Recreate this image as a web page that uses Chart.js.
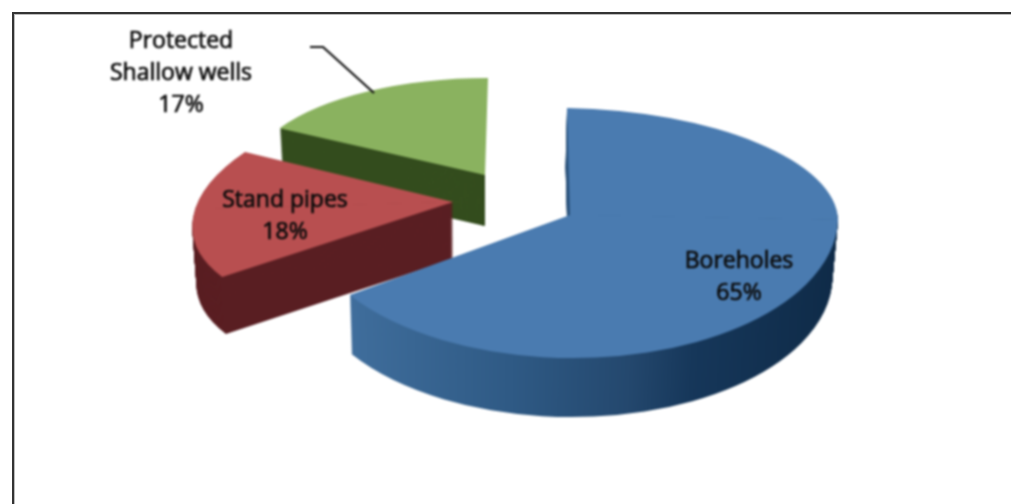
<!DOCTYPE html>
<html>
<head>
<meta charset="utf-8">
<script src="https://cdn.jsdelivr.net/npm/chart.js@4"></script>
<style>
    html, body { margin: 0; padding: 0; background: #fff; overflow: hidden; }
    #wrap { position: relative; width: 1011px; height: 504px; }
    #frame { position: absolute; left: 12px; top: 12px; right: 0; bottom: 0; border-left: 2px solid #333; border-top: 2px solid #333; box-shadow: inset 1px 1px 0 #bbb; }
    #pie { position: absolute; left: 0; top: 0; filter: blur(0.8px); }
</style>
</head>
<body>
<div id="wrap">
    <canvas id="pie" width="1011" height="504"></canvas>
    <div id="frame"></div>
</div>
<script>
const categories = ["Boreholes", "Stand pipes", "Protected Shallow wells"];
const shares = [65, 18, 17];
const labelLines = [["Boreholes"], ["Stand pipes"], ["Protected", "Shallow wells"]];

const topColors = ["#4a7bb0", "#b84f50", "#8ab25f"];
const wallColors = [null, "#5a1f23", "#344d1e"];

// chart.js has no 3d pie, so every slice gets its own projection of the flat arc
const sliceViews = [
    {x: 570, y: 215, a: 268, e: 5, backC: 3, frontC: -6, back: 107, front: 143, depth: 59},
    {x: 453, y: 202, a: 258, e: -7.5, backC: -37.6, frontC: -37.6, back: 117.3, front: 117.3, depth: 57},
    {x: 485, y: 175, a: 236, e: 0, backC: -3, frontC: -3, back: 97, front: 97, depth: 51, wallEdge: 485}
];
const labelSpots = [
    {x: 739, y: 261},
    {x: 285, y: 200},
    {x: 181, y: 41}
];
const drawOrder = [2, 1, 0];
// walls get narrower going down, the way the perspective of the picture does
const wallVanishX = 470;
const wallShrink = 0.015;

const projectArc = (ctx, arc, view, lift, fill) => {
    const r = arc.outerRadius;
    const saved = arc.options;
    arc.options = Object.create(saved, {backgroundColor: {value: fill}, borderWidth: {value: 0}});
    const shrink = 1 - wallShrink * lift / view.depth;

    // back half and front half of the slice are tilted a little differently
    [[view.backC, view.back, -2 * r, 2 * r], [view.frontC, view.front, -1, 2 * r]].forEach(([c, f, top, h]) => {
        ctx.save();
        ctx.translate(wallVanishX, lift);
        ctx.scale(shrink, 1);
        ctx.translate(-wallVanishX, 0);
        ctx.transform(view.a / r, view.e / r, c / r, f / r, view.x, view.y);
        ctx.translate(-arc.x, -arc.y);
        ctx.beginPath();
        ctx.rect(arc.x - 2 * r, arc.y + top, 4 * r, h);
        ctx.clip();
        arc.draw(ctx);
        ctx.restore();
    });
    arc.options = saved;
};

const blueWall = (ctx, arc) => {
    const r = arc.outerRadius;
    const grad = ctx.createLinearGradient(arc.x - r, 0, arc.x + r, 0);
    grad.addColorStop(0, "#4474a5");
    grad.addColorStop(0.12, "#3e6c9a");
    grad.addColorStop(0.4, "#2f5a85");
    grad.addColorStop(0.62, "#24486e");
    grad.addColorStop(0.74, "#16375a");
    grad.addColorStop(1, "#0f2b48");
    return grad;
};

const pie3d = {
    id: "pie3d",
    beforeDatasetsDraw(chart) {
        const ctx = chart.ctx;
        const arcs = chart.getDatasetMeta(0).data;
        drawOrder.forEach((i) => {
            const view = sliceViews[i];
            const wall = wallColors[i] || blueWall(ctx, arcs[i]);
            ctx.save();
            if (view.wallEdge) {
                ctx.beginPath();
                ctx.rect(0, 0, view.wallEdge, chart.height);
                ctx.clip();
            }
            for (let d = view.depth; d >= 1; d--) {
                projectArc(ctx, arcs[i], view, d, wall);
            }
            ctx.restore();
            projectArc(ctx, arcs[i], view, 0, topColors[i]);
        });
        return false;
    },
    afterDraw(chart) {
        const ctx = chart.ctx;
        ctx.save();

        // leader line of the green slice
        ctx.strokeStyle = "#111";
        ctx.lineWidth = 2.2;
        ctx.beginPath();
        ctx.moveTo(310, 47);
        ctx.lineTo(323, 47);
        ctx.lineTo(374, 93);
        ctx.stroke();

        ctx.font = "23px 'Open Sans'";
        ctx.fillStyle = "#0c0c0c";
        ctx.strokeStyle = "#0c0c0c";
        ctx.lineWidth = 0.7;
        ctx.textAlign = "center";
        ctx.textBaseline = "middle";
        categories.forEach((name, i) => {
            const lines = labelLines[i].concat(`${shares[i]}%`);
            lines.forEach((line, n) => {
                ctx.fillText(line, labelSpots[i].x, labelSpots[i].y + n * 32);
                ctx.strokeText(line, labelSpots[i].x, labelSpots[i].y + n * 32);
            });
        });
        ctx.restore();
    }
};

new Chart(document.getElementById("pie"), {
    type: "pie",
    data: {
        labels: categories,
        datasets: [{
            data: shares,
            backgroundColor: topColors,
            borderWidth: 0
        }]
    },
    options: {
        responsive: false,
        animation: false,
        plugins: {
            legend: {display: false},
            tooltip: {enabled: false}
        }
    },
    plugins: [pie3d]
});
</script>
</body>
</html>
